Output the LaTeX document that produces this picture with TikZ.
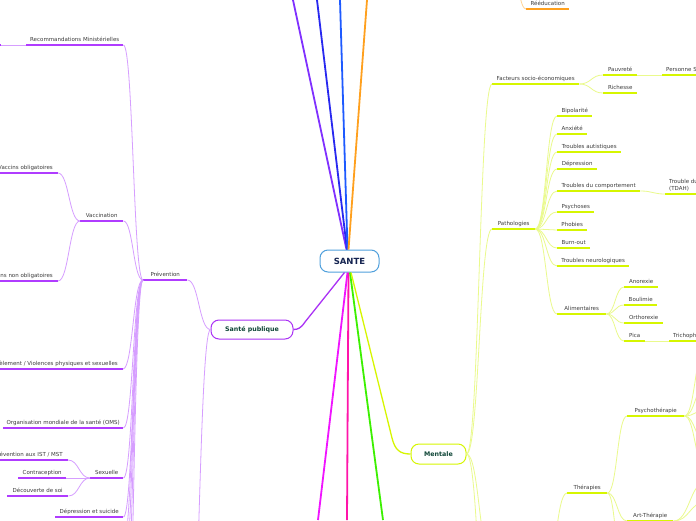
\documentclass[tikz,border=0pt]{standalone}
\usepackage{fontspec}
\setmainfont{DejaVu Sans}
\usetikzlibrary{calc}
\definecolor{txt}{RGB}{60,60,60}
\definecolor{cPurp}{RGB}{176,60,255}
\definecolor{cPurpL}{RGB}{214,158,255}
\definecolor{cYel}{RGB}{214,246,0}
\definecolor{cYelL}{RGB}{234,250,140}
\definecolor{cOr}{RGB}{255,160,30}
\definecolor{cOrL}{RGB}{255,212,150}
\definecolor{cBlueB}{RGB}{80,160,220}
\definecolor{cNavy}{RGB}{20,35,80}
\definecolor{cDG}{RGB}{15,70,55}
\definecolor{cSP}{RGB}{170,50,245}
\definecolor{cViolet}{RGB}{128,48,255}
\definecolor{cDBlue}{RGB}{40,40,240}
\definecolor{cBlue}{RGB}{30,90,255}
\definecolor{cMag}{RGB}{240,20,255}
\definecolor{cPink}{RGB}{255,20,170}
\definecolor{cGreen}{RGB}{60,240,0}
\tikzset{
 topic/.style={font=\fontsize{5.5}{6.6}\selectfont, text=txt, inner xsep=0pt, inner ysep=2.5pt, text height=4pt, text depth=1.2pt},
 pu/.style={draw=cPurp, line width=1.3pt},
 pc/.style={draw=cPurpL, line width=0.8pt},
 yu/.style={draw=cYel, line width=1.3pt},
 yc/.style={draw=cYelL, line width=0.8pt},
 ou/.style={draw=cOr, line width=1.3pt},
 oc/.style={draw=cOrL, line width=0.8pt},
 mainline/.style={line width=1.8pt},
 bignode/.style={fill=white, line width=1pt, rounded corners=8pt, text=cDG, font=\fontsize{6.3}{7}\selectfont\bfseries},
}
\newcommand{\tpc}[6]{\node[topic, anchor=south west, minimum width={#3-#2}] (#1) at (#2,#4) {#5};
 \draw[#6] (#1.south west) -- (#1.south east);}
\newcommand{\tpr}[5]{\node[topic, anchor=south east, inner xsep=5pt] (#1) at (#2,#3) {#4};
 \draw[#5] (#1.south west) -- (#1.south east);}
\newcommand{\tpw}[5]{\node[topic, anchor=south west, inner xsep=4pt] (#1) at (#2,#3) {#4};
 \draw[#5] (#1.south west) -- (#1.south east);}
\newcommand{\sconn}[3]{\coordinate (cmid) at ($(#1)!0.5!(#2)$);
 \draw[#3] (#1) .. controls (cmid |- #1) and (cmid |- #2) .. (#2);}
\begin{document}
\begin{tikzpicture}[x=1pt,y=-1pt]
\useasboundingbox (0,0) rectangle (696,520);
\fill[white] (0,0) rectangle (696,520);
\clip (0,0) rectangle (696,520);

% central node
\node[draw=cBlueB, fill=white, line width=1pt, rounded corners=8pt, minimum width=59pt, minimum height=22pt, text=cNavy, font=\fontsize{8.5}{10}\selectfont\bfseries] (sante) at (349.5,261) {SANTE};

% main branches going off canvas
\coordinate (tv) at (293,0);
\coordinate (tdb) at (317,0);
\coordinate (tb) at (340,0);
\coordinate (to) at (367,0);
\coordinate (bm) at (318,520);
\coordinate (bp) at (347,520);
\coordinate (bg) at (383,520);
\draw[mainline, cViolet] ([xshift=-3pt]sante.north) -- (tv);
\draw[mainline, cDBlue] ([xshift=-2.5pt]sante.north) -- (tdb);
\draw[mainline, cBlue] ([xshift=-2pt]sante.north) -- (tb);
\draw[mainline, cOr] ([xshift=-1pt]sante.north) -- (to);
\draw[mainline, cMag] ([xshift=-2pt]sante.south) -- (bm);
\draw[mainline, cPink] ([xshift=-1pt]sante.south) -- (bp);
\draw[mainline, cGreen] ([xshift=0.5pt]sante.south) -- (bg);

% Santé publique
\node[bignode, draw=cSP, minimum width=82pt, minimum height=19pt] (sp) at (252,329.5) {Santé publique};
\draw[line width=1.3pt, cSP] ([xshift=-5pt]sante.south) -- (305,322) .. controls (301,328) and (298,329.5) .. (sp.east);

% Mentale
\node[bignode, draw=cYel, minimum width=55pt, minimum height=20pt] (mentale) at (438.5,454) {Mentale};
\draw[line width=1.3pt, cYel] ([xshift=1.5pt]sante.south) -- (392,438) .. controls (395,450) and (400,454) .. (mentale.west);

% ---------- Prévention tree ----------
\tpc{prev}{143}{187}{280}{Prévention}{pu}
\tpc{reco}{26}{123}{45}{Recommandations Ministérielles}{pu}
\coordinate (recoC) at (1,45);
\draw[pu] (recoC) -- (-10,45);
\tpc{vacc}{80}{123}{221}{Vaccination}{pu}
\tpr{vobl}{58}{173}{Vaccins obligatoires}{pu}
\tpr{vnon}{58}{281}{Vaccins non obligatoires}{pu}
\tpr{harc}{123}{369}{Harcèlement / Violences physiques et sexuelles}{pu}
\tpc{oms}{3}{123}{428}{Organisation mondiale de la santé (OMS)}{pu}
\tpc{sex}{90}{123}{478}{Sexuelle}{pu}
\tpr{ist}{68}{460}{Prévention aux IST / MST}{pu}
\tpc{contra}{18}{66}{478}{Contraception}{pu}
\tpc{decou}{7}{68}{496}{Découverte de soi}{pu}
\tpc{depr}{55}{123}{517}{Dépression et suicide}{pu}
\coordinate (pb1) at (123,545);
\coordinate (pb2) at (123,585);
\coordinate (pb3) at (123,650);
\coordinate (pb4) at (123,760);
\coordinate (spb) at (187,720);

\sconn{sp.west}{prev.south east}{pc}
\sconn{sp.west}{spb}{pc}
\sconn{reco.south west}{recoC}{pc}
\foreach \c in {reco,vacc,harc,oms,sex,depr} {\sconn{prev.south west}{\c.south east}{pc}}
\foreach \c in {pb1,pb2,pb3,pb4} {\sconn{prev.south west}{\c}{pc}}
\sconn{vacc.south west}{vobl.south east}{pc}
\sconn{vacc.south west}{vnon.south east}{pc}
\sconn{sex.south west}{ist.south east}{pc}
\sconn{sex.south west}{contra.south east}{pc}
\sconn{sex.south west}{decou.south east}{pc}

% ---------- Rééducation ----------
\tpc{reed}{526}{569}{9}{Rééducation}{ou}
\coordinate (reedP) at (507,-60);
\sconn{reedP}{reed.south west}{oc}

% ---------- Mentale tree ----------
\tpc{fact}{492}{579}{84}{Facteurs socio-économiques}{yu}
\tpc{pauv}{603}{637}{75}{Pauvreté}{yu}
\tpc{rich}{603}{637}{93}{Richesse}{yu}
\tpw{pers}{662}{75}{Personne S}{yu}
\tpc{patho}{492}{535}{229}{Pathologies}{yu}
\tpc{bip}{557}{592}{116}{Bipolarité}{yu}
\tpc{anx}{557}{587}{134}{Anxiété}{yu}
\tpc{aut}{557}{621}{152}{Troubles autistiques}{yu}
\tpc{dep}{557}{597}{169}{Dépression}{yu}
\tpc{comp}{557}{640}{191}{Troubles du comportement}{yu}
\node[topic, anchor=south west, inner xsep=4pt, align=left] (tdah) at (665,194) {Trouble du\\(TDAH)};
\draw[yu] (tdah.south west) -- (tdah.south east);
\tpc{psy}{557}{594}{212}{Psychoses}{yu}
\tpc{pho}{557}{587}{230}{Phobies}{yu}
\tpc{burn}{557}{590}{248}{Burn-out}{yu}
\tpc{neuro}{557}{629}{266}{Troubles neurologiques}{yu}
\tpc{alim}{557}{606}{314}{Alimentaires}{yu}
\tpc{ano}{624}{658}{287}{Anorexie}{yu}
\tpc{bou}{624}{657}{305}{Boulimie}{yu}
\tpc{orth}{624}{663}{323}{Orthorexie}{yu}
\tpc{pica}{624}{645}{341}{Pica}{yu}
\tpw{trich}{669}{341}{Trichoph}{yu}
\tpc{ther}{567}{607}{493}{Thérapies}{yu}
\tpc{psyt}{627}{684}{416}{Psychothérapie}{yu}
\tpc{art}{627}{673}{521}{Art-Thérapie}{yu}

\coordinate (mb1) at (492,560);
\coordinate (mb2) at (492,700);
\coordinate (therP) at (545,575);
\coordinate (therB) at (627,610);
\coordinate (ps1) at (706,345);
\coordinate (ps2) at (706,385);
\coordinate (ps3) at (706,410);
\coordinate (ps4) at (706,442);
\coordinate (ps5) at (706,470);
\coordinate (ar1) at (706,482);
\coordinate (ar2) at (706,502);

\sconn{mentale.east}{fact.south west}{yc}
\sconn{mentale.east}{patho.south west}{yc}
\sconn{mentale.east}{mb1}{yc}
\sconn{mentale.east}{mb2}{yc}
\sconn{fact.south east}{pauv.south west}{yc}
\sconn{fact.south east}{rich.south west}{yc}
\sconn{pauv.south east}{pers.south west}{yc}
\foreach \c in {bip,anx,aut,dep,comp,psy,pho,burn,neuro,alim} {\sconn{patho.south east}{\c.south west}{yc}}
\sconn{comp.south east}{tdah.south west}{yc}
\foreach \c in {ano,bou,orth,pica} {\sconn{alim.south east}{\c.south west}{yc}}
\sconn{pica.south east}{trich.south west}{yc}
\sconn{therP}{ther.south west}{yc}
\sconn{ther.south east}{psyt.south west}{yc}
\sconn{ther.south east}{art.south west}{yc}
\sconn{ther.south east}{therB}{yc}
\foreach \c in {ps1,ps2,ps3,ps4,ps5} {\sconn{psyt.south east}{\c}{yc}}
\foreach \c in {ar1,ar2} {\sconn{art.south east}{\c}{yc}}
\end{tikzpicture}
\end{document}
